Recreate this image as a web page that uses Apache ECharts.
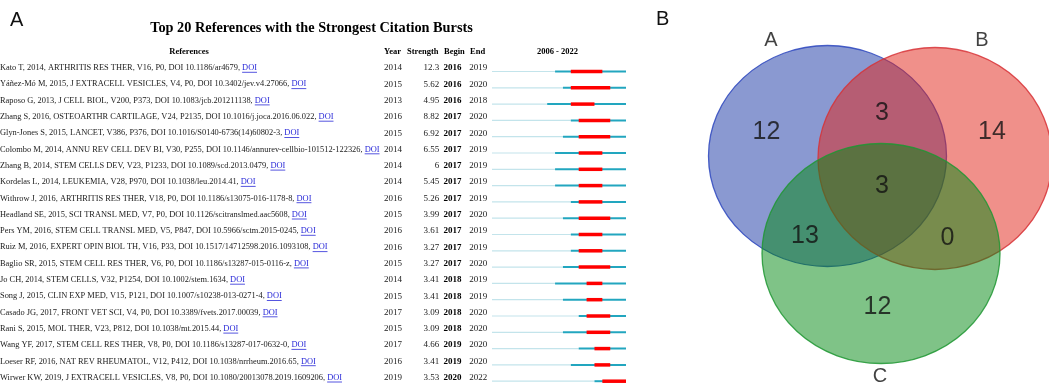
<!DOCTYPE html>
<html>
<head>
<meta charset="utf-8">
<title>Citation bursts / Venn</title>
<script src="https://cdn.jsdelivr.net/npm/echarts@6.0.0/dist/echarts.min.js"></script>
<style>
html, body { margin: 0; padding: 0; background: #fff; }
#main { width: 1049px; height: 387px; }
</style>
</head>
<body>
<div id="main"></div>
<script>
/*-----------------------------数据-----------------------------*/
var refs = [
    'Kato T, 2014, ARTHRITIS RES THER, V16, P0, DOI 10.1186/ar4679,',
    'Yáñez-Mó M, 2015, J EXTRACELL VESICLES, V4, P0, DOI 10.3402/jev.v4.27066,',
    'Raposo G, 2013, J CELL BIOL, V200, P373, DOI 10.1083/jcb.201211138,',
    'Zhang S, 2016, OSTEOARTHR CARTILAGE, V24, P2135, DOI 10.1016/j.joca.2016.06.022,',
    'Glyn-Jones S, 2015, LANCET, V386, P376, DOI 10.1016/S0140-6736(14)60802-3,',
    'Colombo M, 2014, ANNU REV CELL DEV BI, V30, P255, DOI 10.1146/annurev-cellbio-101512-122326,',
    'Zhang B, 2014, STEM CELLS DEV, V23, P1233, DOI 10.1089/scd.2013.0479,',
    'Kordelas L, 2014, LEUKEMIA, V28, P970, DOI 10.1038/leu.2014.41,',
    'Withrow J, 2016, ARTHRITIS RES THER, V18, P0, DOI 10.1186/s13075-016-1178-8,',
    'Headland SE, 2015, SCI TRANSL MED, V7, P0, DOI 10.1126/scitranslmed.aac5608,',
    'Pers YM, 2016, STEM CELL TRANSL MED, V5, P847, DOI 10.5966/sctm.2015-0245,',
    'Ruiz M, 2016, EXPERT OPIN BIOL TH, V16, P33, DOI 10.1517/14712598.2016.1093108,',
    'Baglio SR, 2015, STEM CELL RES THER, V6, P0, DOI 10.1186/s13287-015-0116-z,',
    'Jo CH, 2014, STEM CELLS, V32, P1254, DOI 10.1002/stem.1634,',
    'Song J, 2015, CLIN EXP MED, V15, P121, DOI 10.1007/s10238-013-0271-4,',
    'Casado JG, 2017, FRONT VET SCI, V4, P0, DOI 10.3389/fvets.2017.00039,',
    'Rani S, 2015, MOL THER, V23, P812, DOI 10.1038/mt.2015.44,',
    'Wang YF, 2017, STEM CELL RES THER, V8, P0, DOI 10.1186/s13287-017-0632-0,',
    'Loeser RF, 2016, NAT REV RHEUMATOL, V12, P412, DOI 10.1038/nrrheum.2016.65,',
    'Wirwer KW, 2019, J EXTRACELL VESICLES, V8, P0, DOI 10.1080/20013078.2019.1609206,'
];
var pubYears   = [2014, 2015, 2013, 2016, 2015, 2014, 2014, 2014, 2016, 2015, 2016, 2016, 2015, 2014, 2015, 2017, 2015, 2017, 2016, 2019];
var strengths  = ['12.3', '5.62', '4.95', '8.82', '6.92', '6.55', '6', '5.45', '5.26', '3.99', '3.61', '3.27', '3.27', '3.41', '3.41', '3.09', '3.09', '4.66', '3.41', '3.53'];
var beginYears = [2016, 2016, 2016, 2017, 2017, 2017, 2017, 2017, 2017, 2017, 2017, 2017, 2017, 2018, 2018, 2018, 2018, 2019, 2019, 2020];
var endYears   = [2019, 2020, 2018, 2020, 2020, 2019, 2019, 2019, 2019, 2020, 2019, 2019, 2020, 2019, 2019, 2020, 2020, 2020, 2020, 2022];
var yearStart = 2006, yearEnd = 2022;

var vennSets   = ['A', 'B', 'C'];
var vennCounts = [12, 14, 12, 3, 13, 0, 3];   // A, B, C, AB, AC, BC, ABC

/*-----------------------------布局-----------------------------*/
var serif = '"Liberation Serif", "Times New Roman", serif';
var sans = '"Liberation Sans", Arial, sans-serif';
var refSize = 8.4;
var rowIds = refs.map(function (r, i) { return i; });

// 韦恩图位置 (面板内像素单位)
var vennEllipses = [[177.5, 156, 119, 110.5], [285, 158.5, 117, 111], [231, 253.5, 119, 110]];
var vennFills = ['rgba(21,51,163,0.5)', 'rgba(225,33,21,0.5)', 'rgba(0,135,15,0.5)'];
var vennStrokes = ['rgba(45,70,190,0.85)', 'rgba(215,50,55,0.85)', 'rgba(30,150,50,0.85)'];
var vennSetPos = [[121, 40], [332, 40], [230, 376.5]];
var vennCountPos = [[116.5, 132.5], [342, 132], [227.5, 307.5], [232, 113], [155, 236], [297.5, 238.5], [232, 186]];

var measureCtx = document.createElement('canvas').getContext('2d');
function textWidth(s, font) {
    measureCtx.font = font;
    return measureCtx.measureText(s).width;
}

// 左侧表格的每一列用一个隐藏的 y 轴标签
function rowAxis(margin, align, formatter, extra) {
    var label = {
        interval: 0,
        margin: margin,
        align: align,
        formatter: formatter,
        fontFamily: serif,
        fontSize: 9,
        color: '#1a1a1a'
    };
    for (var k in extra) label[k] = extra[k];
    return {
        type: 'category',
        gridIndex: 0,
        position: 'left',
        offset: 0,
        data: rowIds,
        inverse: true,
        boundaryGap: false,
        axisLine: { show: false },
        axisTick: { show: false },
        splitLine: { show: false },
        axisLabel: label
    };
}

var myChart = echarts.init(document.getElementById('main'));

var option = {
    animation: false,
    backgroundColor: '#fff',
    grid: [
        { left: 492, width: 134, top: 68, height: 309.7, outerBoundsMode: 'none' },   // 时间线
        { left: 650, top: 0, width: 399, height: 387, outerBoundsMode: 'none' }       // 韦恩图
    ],
    xAxis: [
        { type: 'value', gridIndex: 0, min: yearStart, max: yearEnd + 1, show: false },
        { type: 'value', gridIndex: 1, min: 0, max: 399, show: false }
    ],
    yAxis: [
        rowAxis(492, 'left', function (v, i) { return '{r|' + refs[i] + ' }{d|DOI}'; }, {
            rich: {
                r: { fontFamily: serif, fontSize: refSize, color: '#1a1a1a' },
                d: { fontFamily: serif, fontSize: refSize, color: '#2a2ad8' }
            }
        }),
        rowAxis(108, 'left', function (v, i) { return String(pubYears[i]); }, {}),
        rowAxis(52.7, 'right', function (v, i) { return strengths[i]; }, {}),
        rowAxis(39.5, 'center', function (v, i) { return String(beginYears[i]); }, { fontWeight: 'bold', color: '#000' }),
        rowAxis(13.7, 'center', function (v, i) { return String(endYears[i]); }, {}),
        { type: 'value', gridIndex: 1, min: 0, max: 387, inverse: true, show: false }
    ],
    graphic: [
        { type: 'text', x: 10, y: 20, style: { text: 'A', font: '20px ' + sans, fill: '#111', textVerticalAlign: 'middle' } },
        { type: 'text', x: 311.5, y: 28, style: { text: 'Top 20 References with the Strongest Citation Bursts', font: 'bold 14.3px ' + serif, fill: '#000', textAlign: 'center', textVerticalAlign: 'middle' } },
        { type: 'text', x: 189, y: 51.5, style: { text: 'References', font: 'bold 8.5px ' + serif, fill: '#000', textAlign: 'center', textVerticalAlign: 'middle' } },
        { type: 'text', x: 384, y: 51.5, style: { text: 'Year', font: 'bold 8.5px ' + serif, fill: '#000', textVerticalAlign: 'middle' } },
        { type: 'text', x: 407, y: 51.5, style: { text: 'Strength', font: 'bold 8.5px ' + serif, fill: '#000', textVerticalAlign: 'middle' } },
        { type: 'text', x: 444, y: 51.5, style: { text: 'Begin', font: 'bold 8.5px ' + serif, fill: '#000', textVerticalAlign: 'middle' } },
        { type: 'text', x: 470, y: 51.5, style: { text: 'End', font: 'bold 8.5px ' + serif, fill: '#000', textVerticalAlign: 'middle' } },
        { type: 'text', x: 557.5, y: 51.5, style: { text: yearStart + ' - ' + yearEnd, font: 'bold 8.5px ' + serif, fill: '#000', textAlign: 'center', textVerticalAlign: 'middle' } },
        { type: 'text', x: 656, y: 19, style: { text: 'B', font: '20px ' + sans, fill: '#111', textVerticalAlign: 'middle' } }
    ],
    series: [
        {
            // 引用突现时间线
            type: 'custom',
            xAxisIndex: 0,
            yAxisIndex: 0,
            clip: false,
            silent: true,
            data: rowIds.map(function (i) { return [i, pubYears[i], beginYears[i], endYears[i]]; }),
            encode: { x: [1, 2, 3], y: 0 },
            renderItem: function (params, api) {
                var i = api.value(0);
                var p0 = api.coord([yearStart, i]);
                var xp = api.coord([api.value(1), i])[0];
                var xb = api.coord([api.value(2), i])[0];
                var xe = api.coord([api.value(3) + 1, i])[0];
                var xz = api.coord([yearEnd + 1, i])[0];
                var y = p0[1] + 3.5;
                var font = refSize + 'px ' + serif;
                var ux = textWidth(refs[i] + ' ', font);
                var uw = textWidth('DOI', font);
                return {
                    type: 'group',
                    children: [
                        { type: 'rect', shape: { x: p0[0], y: y - 0.6, width: xp - p0[0], height: 1.2 }, style: { fill: '#C3E4EB' } },
                        { type: 'rect', shape: { x: xp, y: y - 1, width: xz - xp, height: 2 }, style: { fill: '#22A6BF' } },
                        { type: 'rect', shape: { x: xb, y: y - 1.75, width: xe - xb, height: 3.5 }, style: { fill: '#FF0000' } },
                        { type: 'line', shape: { x1: ux, y1: p0[1] + 4.3, x2: ux + uw, y2: p0[1] + 4.3 }, style: { stroke: '#2a2ad8', lineWidth: 0.8 } }
                    ]
                };
            }
        },
        {
            // 韦恩图的三个椭圆
            type: 'custom',
            xAxisIndex: 1,
            yAxisIndex: 5,
            clip: false,
            silent: true,
            data: vennEllipses.map(function (e, k) { return [e[0], e[1], e[2], e[3], k]; }),
            renderItem: function (params, api) {
                var c = api.coord([api.value(0), api.value(1)]);
                var s = api.size([api.value(2), api.value(3)]);
                var rx = s[0], ry = s[1], k = api.value(4);
                var d = 'M' + (c[0] - rx) + ' ' + c[1] +
                    ' A' + rx + ' ' + ry + ' 0 1 0 ' + (c[0] + rx) + ' ' + c[1] +
                    ' A' + rx + ' ' + ry + ' 0 1 0 ' + (c[0] - rx) + ' ' + c[1] + ' Z';
                return {
                    type: 'path',
                    shape: { pathData: d },
                    style: { fill: vennFills[k], stroke: vennStrokes[k], lineWidth: 1.3 }
                };
            }
        },
        {
            // 区域计数
            type: 'scatter',
            xAxisIndex: 1,
            yAxisIndex: 5,
            symbolSize: 0,
            silent: true,
            data: vennCounts.map(function (v, k) { return [vennCountPos[k][0], vennCountPos[k][1], v]; }),
            label: {
                show: true,
                position: 'inside',
                formatter: function (p) { return String(p.value[2]); },
                fontFamily: sans,
                fontSize: 25,
                color: '#111'
            }
        },
        {
            // 集合名称
            type: 'scatter',
            xAxisIndex: 1,
            yAxisIndex: 5,
            symbolSize: 0,
            silent: true,
            data: vennSets.map(function (s, k) { return [vennSetPos[k][0], vennSetPos[k][1], s]; }),
            label: {
                show: true,
                position: 'inside',
                formatter: function (p) { return p.value[2]; },
                fontFamily: sans,
                fontSize: 20,
                color: '#111'
            }
        }
    ]
};

myChart.setOption(option);
</script>
</body>
</html>
